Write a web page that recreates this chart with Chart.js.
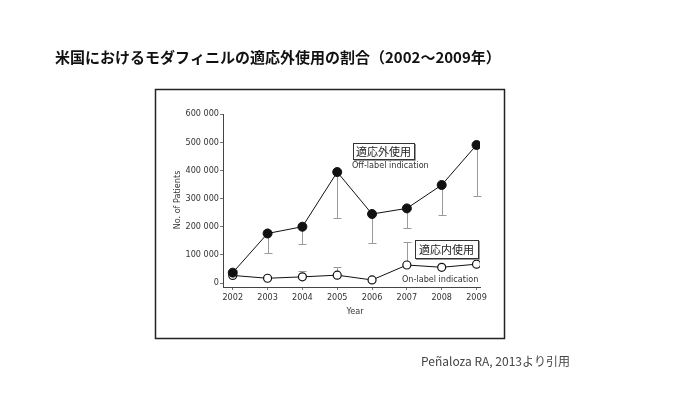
<!DOCTYPE html>
<html lang="ja">
<head>
<meta charset="UTF-8" />
<title>モダフィニルの適応外使用</title>
<script src="https://cdn.jsdelivr.net/npm/chart.js@4.4.0/dist/chart.umd.min.js"></script>
<style>
  body { margin: 0; background: #fff; }
  canvas { display: block; }
</style>
</head>
<body>
<canvas id="chart" width="700" height="393"></canvas>
<script>
// values
const years = [2002, 2003, 2004, 2005, 2006, 2007, 2008, 2009];
const offLabel = [37000, 176000, 200000, 394000, 245000, 265000, 348000, 490000];
const onLabel = [27000, 17000, 22000, 28000, 11000, 64000, 56000, 67000];
// error bars: off-label only go down, on-label only go up
const offLabelLow = [null, 107000, 138000, 230000, 143000, 195000, 241000, 309000];
const onLabelHigh = [48000, null, 44000, 58000, null, 146000, null, null];
const yTicks = [0, 100000, 200000, 300000, 400000, 500000, 600000];

const titleText = "米国におけるモダフィニルの適応外使用の割合（2002～2009年）";
const sourceText = "Peñaloza RA, 2013より引用";

const narrow = "'Liberation Sans Narrow', 'DejaVu Sans Condensed', 'Liberation Sans', sans-serif";

function fmt(v) {
  if (v === 0) return "0";
  return (v / 1000) + " 000";
}

// frame, titles, labels and error bars
const extras = {
  id: "extras",
  beforeDatasetsDraw(chart) {
    const ctx = chart.ctx;
    const xs = chart.scales.x, ys = chart.scales.y;
    ctx.save();
    ctx.strokeStyle = "#9a9a9a";
    ctx.lineWidth = 1;
    function bar(i, from, to) {
      if (to === null) return;
      const x = Math.round(xs.getPixelForValue(years[i])) + 0.5;
      const y1 = ys.getPixelForValue(from), y2 = Math.round(ys.getPixelForValue(to)) + 0.5;
      ctx.beginPath();
      ctx.moveTo(x, y1); ctx.lineTo(x, y2);
      ctx.moveTo(x - 4, y2); ctx.lineTo(x + 4, y2);
      ctx.stroke();
    }
    years.forEach((y, i) => {
      bar(i, offLabel[i], offLabelLow[i]);
      bar(i, onLabel[i], onLabelHigh[i]);
    });
    ctx.restore();
  },
  afterDraw(chart) {
    const ctx = chart.ctx;
    ctx.save();
    // title
    ctx.fillStyle = "#111";
    ctx.font = "bold 15px 'Noto Sans CJK JP', sans-serif";
    ctx.textBaseline = "middle";
    ctx.textAlign = "left";
    ctx.fillText(titleText, 55, 57);

    // frame
    ctx.strokeStyle = "#222";
    ctx.lineWidth = 1.5;
    ctx.strokeRect(155.5, 89.5, 349, 249);

    // axis titles
    ctx.fillStyle = "#333";
    ctx.font = "9px " + narrow;
    ctx.textAlign = "center";
    ctx.fillText("Year", 355, 312);
    ctx.save();
    ctx.translate(178, 200);
    ctx.rotate(-Math.PI / 2);
    ctx.fillText("No. of Patients", 0, 0);
    ctx.restore();

    // label boxes
    function box(x, y, w, h, text) {
      ctx.fillStyle = "#fff";
      ctx.fillRect(x, y, w, h);
      ctx.strokeStyle = "#999";
      ctx.lineWidth = 1;
      ctx.beginPath();
      ctx.moveTo(x + w + 1.5, y + 1); ctx.lineTo(x + w + 1.5, y + h + 1.5); ctx.lineTo(x + 1, y + h + 1.5);
      ctx.stroke();
      ctx.strokeStyle = "#333";
      ctx.strokeRect(x + 0.5, y + 0.5, w, h);
      ctx.fillStyle = "#222";
      ctx.font = "11px 'Noto Sans CJK JP', sans-serif";
      ctx.textAlign = "center";
      ctx.fillText(text, x + w / 2, y + h / 2 + 1);
    }
    box(353, 143, 61, 16, "適応外使用");
    box(415, 240, 63, 18, "適応内使用");

    ctx.fillStyle = "#333";
    ctx.font = "9px " + narrow;
    ctx.textAlign = "left";
    ctx.fillText("Off-label indication", 352, 166);
    ctx.fillText("On-label indication", 402, 280);

    // source
    ctx.fillStyle = "#444";
    ctx.font = "12px 'Noto Sans CJK JP', sans-serif";
    ctx.fillText(sourceText, 421, 361);
    ctx.restore();
  }
};

new Chart(document.getElementById("chart"), {
  type: "line",
  data: {
    datasets: [
      {
        label: "Off-label indication",
        data: years.map((y, i) => ({ x: y, y: offLabel[i] })),
        borderColor: "#111",
        borderWidth: 1,
        backgroundColor: "#111",
        pointBackgroundColor: "#111",
        pointBorderColor: "#111",
        pointRadius: 4.5,
        tension: 0
      },
      {
        label: "On-label indication",
        data: years.map((y, i) => ({ x: y, y: onLabel[i] })),
        borderColor: "#111",
        borderWidth: 1,
        pointBackgroundColor: "#fff",
        pointBorderColor: "#111",
        pointBorderWidth: 1.2,
        pointRadius: 4,
        tension: 0
      }
    ]
  },
  options: {
    responsive: false,
    animation: false,
    devicePixelRatio: 1,
    layout: { padding: { left: 170, right: 220, top: 114, bottom: 86 } },
    plugins: {
      legend: { display: false },
      tooltip: { enabled: false }
    },
    scales: {
      x: {
        type: "linear",
        min: 2001.72,
        max: 2009.1,
        afterBuildTicks: s => { s.ticks = years.map(v => ({ value: v })); },
        afterFit: s => { s.height = 20; },
        grid: { display: true, drawOnChartArea: false, tickLength: 3, color: "#777" },
        border: { color: "#444", width: 1 },
        ticks: {
          callback: v => String(v),
          color: "#333",
          font: { family: narrow, size: 9 },
          padding: 2,
          maxRotation: 0
        }
      },
      y: {
        min: -14000,
        max: 600000,
        afterBuildTicks: s => { s.ticks = yTicks.map(v => ({ value: v })); },
        afterFit: s => { s.width = 53; },
        grid: { display: true, drawOnChartArea: false, tickLength: 3, color: "#777" },
        border: { color: "#444", width: 1 },
        ticks: {
          callback: v => fmt(v),
          color: "#333",
          font: { family: narrow, size: 9 },
          padding: 1
        }
      }
    }
  },
  plugins: [extras]
});
</script>
</body>
</html>
